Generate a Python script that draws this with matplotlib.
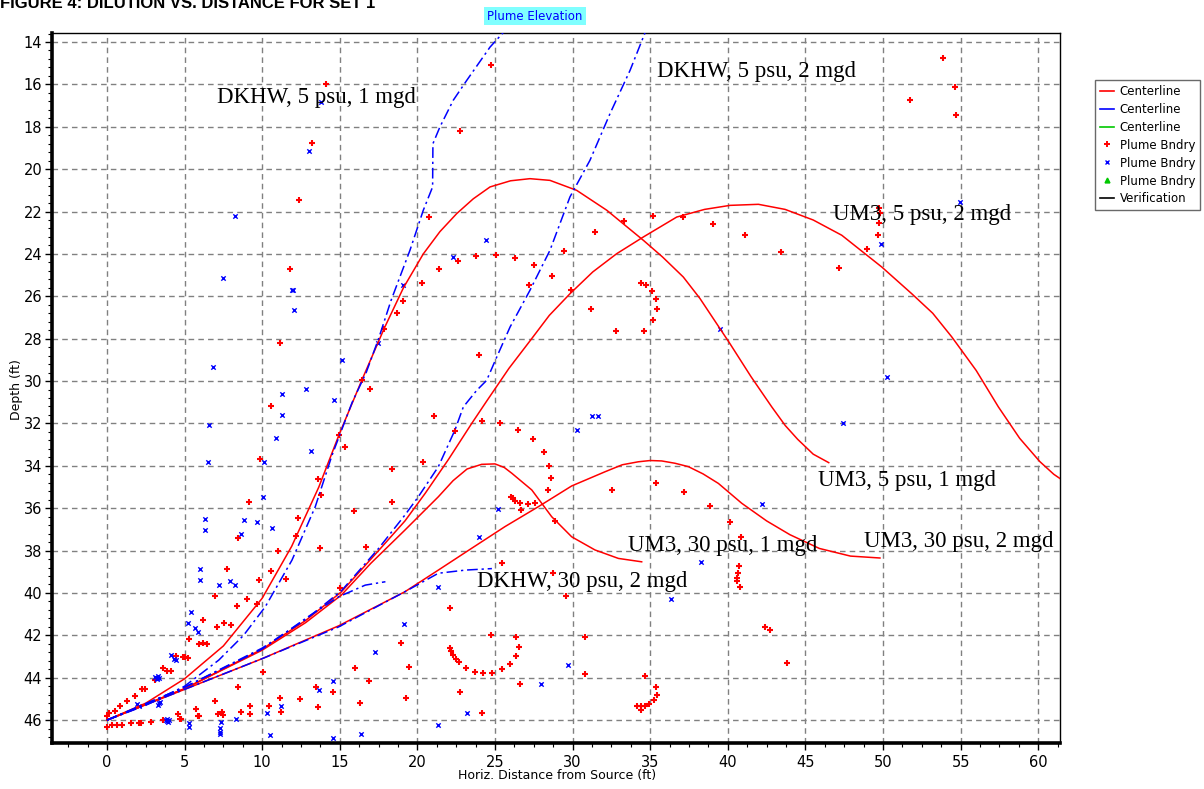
import matplotlib
matplotlib.use('Agg')
import matplotlib.pyplot as plt
from matplotlib.lines import Line2D
from matplotlib.ticker import MultipleLocator

# ---- centerlines (UM3, red) ----
um3_5psu_1mgd_x = [0, 2.5, 5, 7.5, 10, 11.9, 13.65, 14.97, 16.43, 17.87, 19.1, 20.38, 21.45, 22.53, 23.6,
                   24.68, 26.0, 27.25, 28.54, 30.26, 32.2, 34.56, 35.8, 37.13, 38.2, 39.28, 40.14, 41.5,
                   42.83, 43.7, 44.5, 45.5, 46.5]
um3_5psu_1mgd_y = [46, 45.2, 44.05, 42.5, 40.25, 37.8, 35.0, 32.5, 29.94, 27.5, 25.6, 24.0, 22.95, 22.1, 21.4,
                   20.84, 20.55, 20.45, 20.53, 21.0, 21.94, 23.36, 24.15, 25.09, 26.1, 27.29, 28.24, 29.8,
                   31.22, 32.1, 32.75, 33.45, 33.85]

um3_5psu_2mgd_x = [0, 5.05, 10, 12.8, 15.1, 17.5, 19.2, 20.5, 22.0, 23.5, 24.46, 25.9, 27.28, 28.5, 29.83,
                   31.3, 32.84, 34.56, 36.71, 38.5, 40.14, 41.97, 43.69, 45.5, 47.34, 49.92, 51.85, 53.2,
                   54.43, 56.0, 57.43, 58.8, 60.1, 61.0, 62]
um3_5psu_2mgd_y = [46, 44.5, 42.65, 41.3, 39.95, 38.0, 36.6, 35.3, 33.7, 32.0, 30.95, 29.4, 28.08, 26.9, 25.88,
                   24.85, 23.99, 23.2, 22.26, 21.9, 21.71, 21.66, 21.9, 22.4, 23.12, 24.62, 25.88, 26.8,
                   27.92, 29.5, 31.22, 32.7, 33.8, 34.4, 34.9]

um3_30psu_1mgd_x = [0, 5.05, 10, 12.8, 15.1, 17.0, 19.2, 21.35, 22.3, 23.2, 24.14, 25.0, 25.6, 26.08, 27.37,
                    28.65, 29.94, 31.44, 32.95, 34.45]
um3_30psu_1mgd_y = [46, 44.5, 42.7, 41.4, 40.1, 38.6, 37.03, 35.46, 34.7, 34.15, 33.93, 33.91, 34.08, 34.35, 35.14,
                    36.4, 37.35, 37.97, 38.37, 38.53]

um3_30psu_2mgd_x = [0, 5, 10, 14.93, 19.2, 21.35, 23.5, 25.64, 27.79, 29.94, 32.09, 33.2, 34.23, 35.0, 35.74,
                    36.6, 37.46, 38.4, 39.39, 40.9, 42.5, 44.0, 45.9, 47.9, 49.8]
um3_30psu_2mgd_y = [46, 44.55, 43.1, 41.55, 39.94, 38.92, 37.89, 36.87, 35.93, 34.95, 34.28, 33.95, 33.81, 33.75,
                    33.77, 33.88, 34.04, 34.38, 34.83, 35.77, 36.6, 37.25, 37.9, 38.26, 38.35]

# ---- centerlines (DKHW, blue) ----
dkhw_5psu_1mgd_x = [0, 2.5, 5, 7.2, 8.8, 10.2, 11.92, 13.42, 14.5, 15.8, 16.7, 17.5, 18.3, 19.52, 20.38,
                    20.98, 21.0, 21.45, 22.31, 23.18, 24.68, 25.6]
dkhw_5psu_1mgd_y = [46, 45.3, 44.4, 43.17, 42.0, 40.65, 38.45, 35.93, 33.5, 31.0, 29.6, 28.0, 26.2, 23.83, 21.94,
                    20.84, 18.8, 18.01, 16.75, 15.81, 14.24, 13.5]

dkhw_5psu_2mgd_x = [0, 5, 10, 12.8, 15.1, 17.5, 19.2, 20.06, 21.35, 22.42, 22.96, 23.82, 24.46, 25.11, 25.97,
                    27.25, 28.54, 29.83, 31.12, 32.41, 33.7, 34.7]
dkhw_5psu_2mgd_y = [46, 44.45, 42.6, 41.25, 39.9, 37.9, 36.32, 35.46, 34.04, 32.31, 31.22, 30.44, 29.97, 28.87, 27.45,
                    25.72, 23.83, 21.31, 19.58, 17.38, 15.34, 13.5]

dkhw_30psu_1mgd_x = [0, 5, 10, 13, 14.93, 16.64, 17.94]
dkhw_30psu_1mgd_y = [46, 44.45, 42.65, 41.1, 40.18, 39.63, 39.47]

dkhw_30psu_2mgd_x = [0, 5, 10, 14.93, 19.2, 21.35, 23.1, 24.8]
dkhw_30psu_2mgd_y = [46, 44.55, 43.1, 41.6, 39.94, 39.07, 38.92, 38.85]

# ---- plume boundary points ----
red_bndry_x = [14.1, 13.2, 12.4, 11.8, 11.15, 17.87, 16.41, 16.97, 10.55, 24.72, 22.76, 20.73, 21.41, 22.6,
               23.8, 25.08, 26.31, 27.49, 29.45, 28.69, 27.21, 29.9, 20.3, 19.09, 18.67, 31.42, 33.31, 35.18,
               37.11, 39.05, 34.41, 34.75, 35.12, 35.35, 35.44, 35.18, 34.6, 32.8, 31.17, 23.97, 53.85, 54.62,
               51.72, 54.69, 49.72, 49.83, 49.74, 49.66, 48.99, 47.18, 43.41, 41.09, 14.97, 15.32, 9.86, 18.38,
               13.61, 13.79, 18.38, 9.15, 15.91, 8.46, 12.33, 12.2, 13.7, 16.67, 11.04, 10.55, 11.55, 9.77,
               7.71, 6.96, 9.0, 8.39, 9.68, 15.01, 6.19, 7.56, 7.99, 7.11, 5.3, 5.91, 6.17, 6.44, 4.45, 4.9,
               5.05, 5.22, 3.61, 3.87, 4.12, 3.09, 2.26, 2.43, 1.8, 1.29, 0.86, 0.5, 0.1, 0.0, 0.0, 0.32, 0.64,
               1.0, 1.55, 2.08, 2.21, 2.82, 3.61, 4.55, 4.68, 4.8, 5.73, 5.84, 5.95, 6.97, 7.13, 7.41, 7.45,
               8.46, 8.65, 9.19, 9.19, 10.03, 10.46, 11.15, 11.23, 12.42, 13.47, 13.61, 14.56, 16.0, 16.86,
               16.28, 18.92, 19.44, 19.27, 21.09, 24.14, 25.34, 22.44, 26.46, 27.47, 28.18, 28.5, 28.59, 28.43,
               20.38, 26.05, 26.14, 26.29, 26.63, 27.15, 27.58, 26.7, 28.84, 32.56, 35.37, 37.18, 38.85, 40.16,
               40.83, 40.7, 40.68, 40.6, 40.6, 40.8, 25.43, 28.76, 29.56, 22.1, 24.76, 26.37, 26.57, 26.37,
               25.96, 25.43, 24.83, 24.25, 23.73, 23.13, 22.68, 22.47, 22.31, 22.14, 22.1, 26.63, 22.76, 24.16,
               30.82, 30.82, 34.67, 35.35, 35.44, 35.23, 34.94, 34.67, 34.41, 34.17, 34.41, 42.4, 42.7, 43.8]
red_bndry_y = [16.0, 18.77, 21.46, 24.71, 28.22, 27.53, 29.94, 30.36, 31.19, 15.07, 18.2, 22.27, 24.71, 24.34,
               24.08, 24.05, 24.21, 24.52, 23.85, 25.03, 25.47, 25.72, 25.36, 26.22, 26.79, 22.97, 22.45, 22.21,
               22.27, 22.59, 25.36, 25.48, 25.74, 26.11, 26.6, 27.1, 27.65, 27.65, 26.6, 28.79, 14.76, 16.12,
               16.75, 17.45, 21.82, 22.06, 22.53, 23.09, 23.77, 24.65, 23.91, 23.09, 32.53, 33.11, 33.68, 34.14,
               34.62, 35.38, 35.69, 35.69, 36.13, 37.39, 36.45, 37.33, 37.88, 37.83, 38.02, 38.96, 39.33, 39.4,
               38.88, 40.16, 40.27, 40.6, 40.51, 39.75, 41.28, 41.4, 41.53, 41.59, 42.16, 42.41, 42.35, 42.41,
               42.98, 43.04, 43.04, 43.08, 43.56, 43.67, 43.67, 44.11, 44.55, 44.55, 44.86, 45.1, 45.32, 45.56,
               45.68, 45.81, 46.31, 46.23, 46.23, 46.23, 46.15, 46.12, 46.12, 46.08, 46.0, 45.73, 45.96, 45.96,
               45.49, 45.8, 45.8, 45.1, 45.7, 45.6, 45.76, 44.45, 45.6, 45.33, 45.71, 43.72, 45.33, 44.97, 45.6,
               45.02, 44.42, 45.4, 44.66, 43.53, 44.16, 45.21, 42.35, 43.48, 44.97, 31.66, 31.87, 31.99, 32.37,
               32.31, 32.75, 33.36, 34.01, 34.58, 35.14, 33.81, 35.46, 35.53, 35.65, 35.77, 35.82, 35.77, 36.07,
               36.59, 35.13, 34.83, 35.25, 35.9, 36.64, 37.35, 38.71, 39.07, 39.31, 39.42, 39.7, 38.59, 39.06,
               40.14, 40.73, 41.97, 42.09, 42.54, 42.98, 43.35, 43.59, 43.76, 43.79, 43.72, 43.53, 43.27, 43.1,
               42.94, 42.73, 42.61, 44.28, 44.66, 45.67, 42.09, 43.84, 43.91, 44.45, 44.83, 45.05, 45.26, 45.32,
               45.32, 45.32, 45.52, 41.6, 41.75, 43.3]

blue_bndry_x = [13.76, 13.02, 8.23, 7.45, 11.92, 11.98, 12.07, 6.85, 15.14, 17.46, 12.84, 11.28, 14.63, 24.42,
                22.27, 19.09, 39.48, 54.98, 49.89, 50.26, 11.3, 6.59, 10.87, 13.16, 10.12, 6.49, 10.03, 6.34,
                6.34, 8.83, 9.68, 8.65, 10.61, 5.99, 5.99, 7.91, 8.23, 7.2, 5.39, 5.24, 5.67, 5.84, 4.12, 4.3,
                4.45, 3.1, 3.2, 3.3, 3.25, 3.35, 2.04, 1.95, 3.37, 3.3, 3.4, 3.8, 3.9, 4.0, 3.85, 3.95, 5.26,
                5.26, 7.37, 7.28, 7.28, 7.28, 8.29, 10.29, 11.23, 10.52, 13.64, 14.56, 14.56, 16.37, 17.29,
                19.16, 31.23, 31.66, 30.3, 25.19, 23.99, 21.33, 38.25, 36.32, 29.7, 27.98, 23.2, 21.33, 42.2,
                47.4]
blue_bndry_y = [16.83, 19.14, 22.21, 25.15, 25.72, 25.72, 26.66, 29.35, 29.02, 28.22, 30.36, 30.61, 30.91, 23.33,
                24.16, 25.47, 27.56, 21.56, 23.53, 29.8, 31.62, 32.06, 32.67, 33.32, 33.81, 33.81, 35.49, 36.51,
                37.02, 36.56, 36.64, 37.2, 36.95, 38.88, 39.4, 39.45, 39.64, 39.64, 40.9, 41.4, 41.65, 41.84,
                42.91, 43.1, 43.16, 43.95, 44.0, 43.9, 44.05, 44.0, 45.32, 45.25, 45.21, 45.3, 45.15, 46.0, 46.05,
                46.0, 45.95, 46.1, 46.15, 46.31, 46.1, 46.39, 46.55, 46.66, 45.96, 45.65, 45.32, 46.7, 44.58,
                44.14, 46.83, 46.66, 42.77, 41.47, 31.66, 31.66, 32.31, 36.05, 37.37, 39.7, 38.53, 40.29, 43.4,
                44.28, 45.67, 46.23, 35.8, 32.0]

# ---- labels on the chart ----
case_labels = ['DKHW, 5 psu, 1 mgd', 'DKHW, 5 psu, 2 mgd', 'UM3, 5 psu, 2 mgd', 'UM3, 5 psu, 1 mgd',
               'UM3, 30 psu, 2 mgd', 'UM3, 30 psu, 1 mgd', 'DKHW, 30 psu, 2 mgd']
case_label_x = [7.09, 35.44, 46.78, 45.8, 48.78, 33.57, 23.84]
case_label_y = [16.6, 15.4, 22.16, 34.67, 37.55, 37.74, 39.48]

legend_labels = ['Centerline', 'Centerline', 'Centerline', 'Plume Bndry', 'Plume Bndry', 'Plume Bndry',
                 'Verification']

RED = '#ff0000'
BLUE = '#0000ff'
GREEN = '#00c800'
DASHDOT = (0, (7, 2.5, 1.5, 2.5))

fig = plt.figure(figsize=(12.04, 7.89), dpi=100)
ax = fig.add_axes([0.0432, 0.0583, 0.8372, 0.8999])

# boundary points
ax.scatter(red_bndry_x, red_bndry_y, marker='+', s=14, linewidths=1.5, color=RED, zorder=3)
ax.scatter(blue_bndry_x, blue_bndry_y, marker='x', s=10, linewidths=1.0, color=BLUE, zorder=3)

# centerlines
for xs, ys in [(um3_5psu_1mgd_x, um3_5psu_1mgd_y), (um3_5psu_2mgd_x, um3_5psu_2mgd_y),
               (um3_30psu_1mgd_x, um3_30psu_1mgd_y), (um3_30psu_2mgd_x, um3_30psu_2mgd_y)]:
    ax.plot(xs, ys, color=RED, lw=1.1, zorder=4)
for xs, ys in [(dkhw_5psu_1mgd_x, dkhw_5psu_1mgd_y), (dkhw_5psu_2mgd_x, dkhw_5psu_2mgd_y),
               (dkhw_30psu_1mgd_x, dkhw_30psu_1mgd_y), (dkhw_30psu_2mgd_x, dkhw_30psu_2mgd_y)]:
    ax.plot(xs, ys, color=BLUE, lw=1.1, linestyle=DASHDOT, zorder=4)

for lab, lx, ly in zip(case_labels, case_label_x, case_label_y):
    ax.text(lx, ly, lab, fontsize=16.5, family='Liberation Serif', va='center', ha='left', zorder=5)

# axes styling
ax.set_xlim(-3.54, 61.4)
ax.set_ylim(47.08, 13.575)
ax.xaxis.set_major_locator(MultipleLocator(5))
ax.xaxis.set_minor_locator(MultipleLocator(1.25))
ax.yaxis.set_major_locator(MultipleLocator(2))
ax.yaxis.set_minor_locator(MultipleLocator(0.4))
ax.set_xticks(range(0, 61, 5))
ax.grid(True, which='major', color='#808080', linestyle=(0, (4, 3)), linewidth=1.0)
ax.set_axisbelow(True)
ax.tick_params(which='major', direction='out', length=5, width=1, labelsize=10.5, colors='black')
ax.tick_params(which='minor', direction='out', length=3, width=0.8)
ax.tick_params(axis='y', pad=2)
for side in ['left', 'bottom']:
    ax.spines[side].set_linewidth(2.6)
for side in ['top', 'right']:
    ax.spines[side].set_linewidth(1.0)

fig.text(557 / 1204, 1 - 776 / 789, 'Horiz. Distance from Source (ft)', fontsize=9, ha='center', va='center')
fig.text(0.014, 1 - 390 / 789, 'Depth (ft)', fontsize=9, ha='center', va='center', rotation=90)

# figure caption, cropped at the top edge as in the original
fig.text(0.0, 1 - 8 / 789, 'FIGURE 4: DILUTION VS. DISTANCE FOR SET 1', fontsize=12, fontweight='bold',
         family='Liberation Sans', ha='left', va='baseline')
fig.text(535 / 1204, 1 - 16 / 789, 'Plume Elevation', fontsize=8.5, color=BLUE, ha='center', va='center',
         bbox=dict(facecolor='#80ffff', edgecolor='none', pad=2))

# legend
handles = [Line2D([], [], color=RED, lw=1.2), Line2D([], [], color=BLUE, lw=1.2),
           Line2D([], [], color=GREEN, lw=1.2),
           Line2D([], [], color=RED, marker='+', ls='none', ms=4, mew=1.4),
           Line2D([], [], color=BLUE, marker='x', ls='none', ms=3.5, mew=1),
           Line2D([], [], color=GREEN, marker='^', ls='none', ms=3.5),
           Line2D([], [], color='black', lw=1.2)]
leg = fig.legend(handles, legend_labels, loc='upper left', bbox_to_anchor=(1095 / 1204, 1 - 80 / 789),
                 fontsize=8.5, frameon=True, fancybox=False, handlelength=1.2, handletextpad=0.5,
                 labelspacing=0.42, borderpad=0.4, borderaxespad=0)
leg.get_frame().set_edgecolor('#444444')
leg.get_frame().set_linewidth(1.0)

fig.savefig('out.png', dpi=100)
